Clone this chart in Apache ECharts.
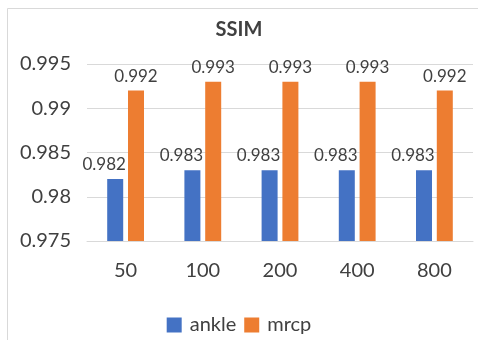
<!DOCTYPE html>
<html>
<head>
<meta charset="utf-8">
<script src="https://cdn.jsdelivr.net/npm/echarts@6/dist/echarts.min.js"></script>
<style>
html,body{margin:0;padding:0;background:#fff;}
#c{width:478px;height:340px;}
</style>
</head>
<body>
<div id="c"></div>
<script>
const categories = ['50', '100', '200', '400', '800'];
const ankle = [0.982, 0.983, 0.983, 0.983, 0.983];
const mrcp = [0.992, 0.993, 0.993, 0.993, 0.992];
const seriesNames = ['ankle', 'mrcp'];
const titleText = 'SSIM';

const FONT = 'Lato';
const TXT = '#404040';
const chart = echarts.init(document.getElementById('c'), null, {renderer: 'canvas'});
chart.setOption({
  animation: false,
  backgroundColor: '#fff',
  textStyle: {fontFamily: FONT},
  graphic: [{
    type: 'rect', silent: true, z: -1,
    shape: {x: 7.5, y: 8.5, width: 520, height: 420},
    style: {fill: 'none', stroke: '#d9d9d9', lineWidth: 1}
  }],
  title: {
    text: titleText, left: 'center', top: 15,
    textStyle: {fontFamily: FONT, fontSize: 20, fontWeight: 'bold', color: TXT}
  },
  legend: {
    data: seriesNames, top: 310, left: 'center',
    itemWidth: 15, itemHeight: 15, itemGap: 8, icon: 'rect',
    textStyle: {fontFamily: FONT, fontSize: 20, color: TXT, padding: [0, 0, 0, 3]}
  },
  grid: {left: 87, right: 5, top: 64, bottom: 99},
  xAxis: {
    type: 'category', data: categories,
    axisLine: {lineStyle: {color: '#d9d9d9'}},
    axisTick: {show: false},
    axisLabel: {fontFamily: FONT, fontSize: 20, color: TXT, margin: 20}
  },
  yAxis: {
    type: 'value', min: 0.975, max: 0.995, interval: 0.005,
    axisLine: {show: false}, axisTick: {show: false},
    splitLine: {lineStyle: {color: '#d9d9d9'}},
    axisLabel: {
      fontFamily: FONT, fontSize: 20, color: TXT, margin: 16,
      formatter: v => String(parseFloat(v.toFixed(3)))
    }
  },
  series: [
    {
      name: seriesNames[0], type: 'bar', data: ankle, barWidth: 16, barGap: '30%',
      itemStyle: {color: '#4472C4'},
      label: {show: true, position: 'top', distance: 6, offset: [-11, 0],
        fontFamily: FONT, fontSize: 17, color: TXT,
        formatter: p => p.value.toFixed(3)}
    },
    {
      name: seriesNames[1], type: 'bar', data: mrcp, barWidth: 16, barGap: '30%',
      itemStyle: {color: '#ED7D31'},
      label: {show: true, position: 'top', distance: 6,
        fontFamily: FONT, fontSize: 17, color: TXT,
        formatter: p => p.value.toFixed(3)}
    }
  ]
});
</script>
</body>
</html>
